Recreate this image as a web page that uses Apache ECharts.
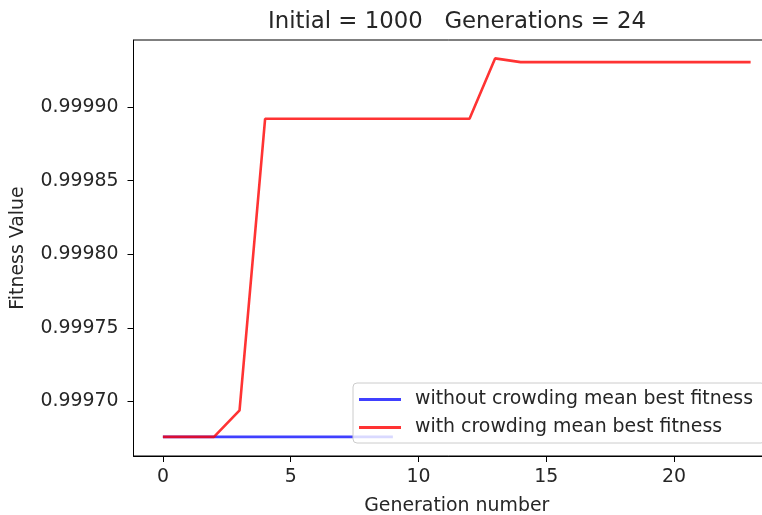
<!DOCTYPE html>
<html>
<head>
<meta charset="utf-8">
<script src="https://cdn.jsdelivr.net/npm/echarts@6/dist/echarts.min.js"></script>
<style>html,body{margin:0;padding:0;background:#fff;}#c{width:762px;height:515px;}</style>
</head>
<body>
<div id="c"></div>
<script>
const generations = [0,1,2,3,4,5,6,7,8,9,10,11,12,13,14,15,16,17,18,19,20,21,22,23];
const withoutCrowding = [0.999676,0.999676,0.999676,0.999676,0.999676,0.999676,0.999676,0.999676,0.999676,0.999676];
const withCrowding = [0.999676,0.999676,0.999676,0.999694,0.999892,0.999892,0.999892,0.999892,0.999892,0.999892,0.999892,0.999892,0.999892,0.999933,0.9999305,0.9999305,0.9999305,0.9999305,0.9999305,0.9999305,0.9999305,0.9999305,0.9999305,0.9999305];
const xTicks = [0,5,10,15,20];
const yTicks = [0.99970,0.99975,0.99980,0.99985,0.99990];
const seriesNames = ['without crowding mean best fitness','with crowding mean best fitness'];
const titleText = 'Initial = 1000   Generations = 24';

const font = 'DejaVu Sans';
const txt = '#262626';
const chart = echarts.init(document.getElementById('c'), null, {renderer:'canvas'});
chart.setOption({
  animation: false,
  title: {text: titleText, left: 452, textAlign: 'center', top: 6,
    textStyle: {fontFamily: font, fontSize: 22.8, fontWeight: 'normal', color: txt}},
  grid: {left: 133.5, top: 40, width: 646.5, height: 416, show: true, borderColor: '#000', borderWidth: 1,
    backgroundColor: 'transparent', containLabel: false, outerBoundsMode: 'none'},
  legend: {
    orient: 'vertical', left: 353, top: 383, padding: [7, 12, 6, 6],
    itemWidth: 42, itemHeight: 3, itemGap: 9, icon: 'rect',
    backgroundColor: 'rgba(255,255,255,0.8)', borderColor: '#cccccc', borderWidth: 1, borderRadius: 4,
    textStyle: {fontFamily: font, fontSize: 18.9, color: txt, padding: [0,0,0,9]},
    data: seriesNames
  },
  xAxis: {
    type: 'value', min: -1.15, max: 24.15,
    name: 'Generation number', nameLocation: 'middle', nameGap: 41,
    nameTextStyle: {fontFamily: font, fontSize: 18.9, color: txt},
    axisLine: {show: true, onZero: false, lineStyle: {color: '#000', width: 1}},
    axisTick: {show: true, length: 6, lineStyle: {color: '#000'}, customValues: xTicks},
    axisLabel: {fontFamily: font, fontSize: 18.9, color: txt, margin: 12, customValues: xTicks},
    splitLine: {show: false}
  },
  yAxis: {
    type: 'value', min: 0.999663, max: 0.9999455,
    name: 'Fitness Value', nameLocation: 'middle', nameGap: 106,
    nameTextStyle: {fontFamily: font, fontSize: 18.9, color: txt},
    axisLine: {show: true, onZero: false, lineStyle: {color: '#000', width: 1}},
    axisTick: {show: true, length: 6, lineStyle: {color: '#000'}, customValues: yTicks},
    axisLabel: {fontFamily: font, fontSize: 18.9, color: txt, margin: 15, customValues: yTicks,
      formatter: v => v.toFixed(5)},
    splitLine: {show: false}
  },
  series: [
    {name: seriesNames[0], type: 'line', symbol: 'none', color: 'rgba(0,0,255,0.75)',
     lineStyle: {width: 2.6, color: 'rgba(0,0,255,0.75)'},
     data: withoutCrowding.map((v,i) => [generations[i], v])},
    {name: seriesNames[1], type: 'line', symbol: 'none', color: 'rgba(255,0,0,0.8)',
     lineStyle: {width: 2.6, color: 'rgba(255,0,0,0.8)'},
     data: withCrowding.map((v,i) => [generations[i], v])}
  ]
});
</script>
</body>
</html>
